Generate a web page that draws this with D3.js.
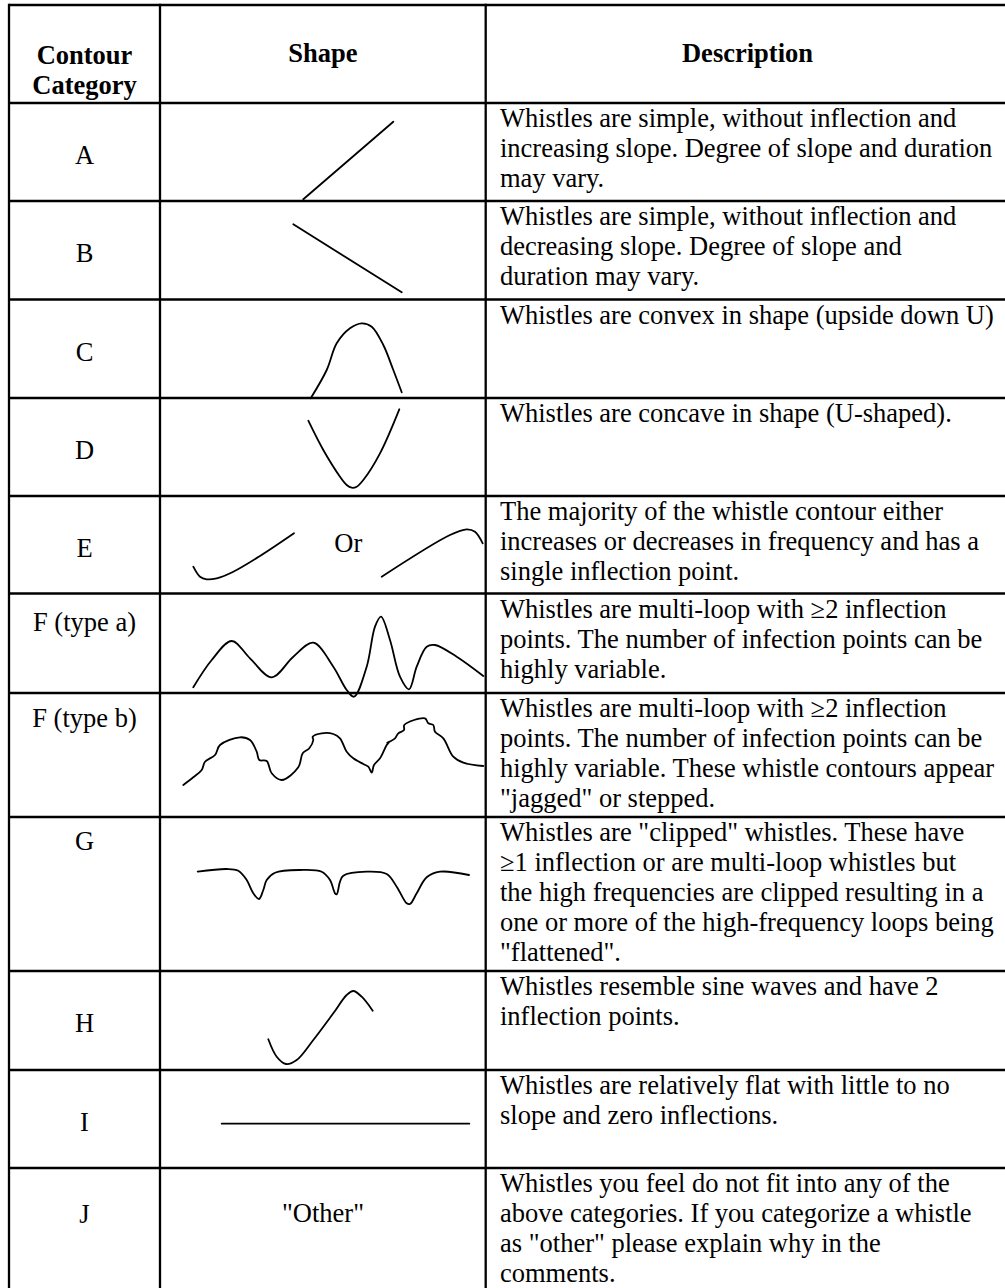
<!DOCTYPE html>
<html>
<head>
<meta charset="utf-8">
<script src="https://cdn.jsdelivr.net/npm/d3@7"></script>
<style>
  body { margin: 0; background: #fff; }
  svg { display: block; }
  text { font-family: "Liberation Serif", "Times New Roman", serif; font-size: 26.5px; fill: #000; }
  .head { font-weight: bold; }
</style>
</head>
<body>
<svg id="chart" width="1005" height="1288"></svg>
<script>
// ─────────────────────────────────────────────────────────────
// 1. table content
// ─────────────────────────────────────────────────────────────
const headers = [['Contour', 'Category'], ['Shape'], ['Description']];

const categories = ['A', 'B', 'C', 'D', 'E', 'F (type a)', 'F (type b)', 'G', 'H', 'I', 'J'];

const descriptions = [
  ['Whistles are simple, without inflection and', 'increasing slope. Degree of slope and duration', 'may vary.'],
  ['Whistles are simple, without inflection and', 'decreasing slope. Degree of slope and', 'duration may vary.'],
  ['Whistles are convex in shape (upside down U)'],
  ['Whistles are concave in shape (U-shaped).'],
  ['The majority of the whistle contour either', 'increases or decreases in frequency and has a', 'single inflection point.'],
  ['Whistles are multi-loop with \u22652 inflection', 'points. The number of infection points can be', 'highly variable.'],
  ['Whistles are multi-loop with \u22652 inflection', 'points. The number of infection points can be', 'highly variable. These whistle contours appear', '"jagged" or stepped.'],
  ['Whistles are "clipped" whistles. These have', '\u22651 inflection or are multi-loop whistles but', 'the high frequencies are clipped resulting in a', 'one or more of the high-frequency loops being', '"flattened".'],
  ['Whistles resemble sine waves and have 2', 'inflection points.'],
  ['Whistles are relatively flat with little to no', 'slope and zero inflections.'],
  ['Whistles you feel do not fit into any of the', 'above categories. If you categorize a whistle', 'as "other" please explain why in the', 'comments.']
];

// contour sketches: strokes of [x, y] in the shape cell's own units
const contourA = [[[143.3, 96.3], [233.3, 18.7]]];
const contourB = [[[133.3, 23.3], [241.7, 91.3]]];
const contourC = [[[150.7, 98.8], [166.7, 70.5], [176.7, 43.8], [190, 28.8], [201.7, 23.8],
                   [211.7, 27.2], [223.3, 45.5], [233.3, 70.5], [241.7, 92.8]]];
const contourD = [[[148.3, 22.7], [163.3, 52], [180, 78.7], [186.7, 87], [191.7, 89.7],
                   [196.7, 88.7], [203.3, 82], [220, 55.3], [239.3, 11.3]]];
const contourE = [
  [[33.3, 70.7], [40, 80.7], [46.7, 83.3], [56.7, 82.3], [73.3, 75.7], [100, 60], [134, 37.3]],
  [[221.7, 80.7], [290, 39], [306.7, 33.3], [315, 35.7], [322.7, 47.3]]
];
const contourFa = [[[33.3, 93.8], [51.7, 66.5], [71.7, 47.5], [90, 64.8], [111.7, 83.8], [133.3, 63.2],
                    [153.3, 49.2], [173.3, 73.2], [186.7, 96.5], [194, 103.2], [206.7, 73.2], [215, 33.2],
                    [221, 23.2], [230, 46.5], [240, 83.2], [249, 95.8], [256.7, 73.2], [266.7, 53.2],
                    [275, 51.5], [296.7, 63.2], [323.3, 82.5]]];
const contourFb = [[[23.3, 92], [33.3, 84.3], [41.7, 77], [45, 68.7], [55, 62], [60, 52], [80, 44.3],
                    [90, 47], [96.7, 58.7], [99.3, 67], [106.7, 68], [111.7, 80.3], [121.7, 87],
                    [138.3, 74.3], [142.7, 60.3], [149.3, 55.3], [153.3, 47], [152.7, 43.7], [161.7, 40.3],
                    [173.3, 41], [180, 45.3], [186.7, 58.7], [193.3, 65.3], [203.3, 71], [208.3, 73.7],
                    [211.7, 79.7], [214, 72], [220, 65.3], [226.7, 52], [229.3, 48.7], [227.3, 49.7],
                    [235, 45.3], [238.3, 40.3], [244, 37], [244.3, 32], [265, 25.3], [268.3, 30.3],
                    [273.3, 32], [275, 38.7], [283.3, 45.3], [293.3, 63.7], [303.3, 69.7], [323.3, 73]]];
const contourG = [[[37.7, 54.7], [66.7, 52], [78.3, 53.7], [86.7, 63], [93.3, 76.3], [99, 82], [103.3, 73],
                   [106.7, 63], [115, 55.7], [140, 53], [161.7, 54.7], [170, 63], [175, 76.3], [176.7, 77.3],
                   [180, 64.7], [183.3, 58.7], [206.7, 54.7], [226.7, 57], [236.7, 69.7], [246.7, 86.3],
                   [250, 87], [256.7, 76.3], [266.7, 60.3], [280, 54.7], [309, 58]]];
const contourH = [[[108.3, 68.3], [116.7, 85.7], [126, 93], [136.7, 89], [153.3, 69], [173.3, 42.3],
                   [186.7, 24], [193.3, 20], [201.7, 25.7], [212.7, 39.7]]];
const contourI = [[[61.7, 53.7], [309.3, 53.7]]];
const contourJ = [];

const contours = [contourA, contourB, contourC, contourD, contourE, contourFa, contourFb,
                  contourG, contourH, contourI, contourJ];

// words written inside the shape column
const shapeWords = ['', '', '', '', 'Or', '', '', '', '', '', '"Other"'];

// ─────────────────────────────────────────────────────────────
// 2. layout
// ─────────────────────────────────────────────────────────────
const COL_X   = [9, 160, 485.7, 1010];
const TOP     = 5;
// header height first, then one height per category row
const ROW_H   = [98, 98, 98.5, 98.5, 98, 97.5, 99.5, 124, 154, 99, 98, 125];
const LABEL_DY = [61, 61, 61, 61, 61, 37.5, 34, 33, 61, 61, 55];
const WORD_POS = [null, null, null, null, [188.3, 55.7], null, null, null, null, null, [163, 54]];
const LINE_STEP = 30;
const DESC_X    = 500;
const DESC_DY   = 24;
const BORDER_W  = 2.3;
const SKETCH_W  = 1.8;

const edges   = [TOP, ...d3.cumsum(ROW_H).map(v => v + TOP)];
const rowTops = edges.slice(1, -1);
const rowBots = edges.slice(2);

const svg = d3.select('#chart');

// ─────────────────────────────────────────────────────────────
// 3. header
// ─────────────────────────────────────────────────────────────
const colMid = i => (COL_X[i] + COL_X[i + 1]) / 2;
const headBase = [[64, 94], [62], [62]];

headers.forEach((lines, i) => {
  svg.selectAll(null)
    .data(lines)
    .join('text')
    .attr('class', 'head')
    .attr('text-anchor', 'middle')
    .attr('x', i === 2 ? 747.5 : colMid(i))
    .attr('y', (d, j) => headBase[i][j])
    .text(d => d);
});

// ─────────────────────────────────────────────────────────────
// 4. body rows
// ─────────────────────────────────────────────────────────────
const line = d3.line().curve(d3.curveCatmullRom.alpha(0.5));

categories.forEach((cat, i) => {
  const top = rowTops[i], bot = rowBots[i];
  const g = svg.append('g');

  g.append('text')
    .attr('text-anchor', 'middle')
    .attr('x', colMid(0))
    .attr('y', top + LABEL_DY[i])
    .text(cat);

  g.selectAll('.desc')
    .data(descriptions[i])
    .join('text')
    .attr('class', 'desc')
    .attr('x', DESC_X)
    .attr('y', (d, j) => top + DESC_DY + j * LINE_STEP)
    .text(d => d);

  const xs = d3.scaleLinear().domain([0, COL_X[2] - COL_X[1]]).range([COL_X[1], COL_X[2]]);
  const ys = d3.scaleLinear().domain([0, bot - top]).range([top, bot]);
  line.x(d => xs(d[0])).y(d => ys(d[1]));

  g.selectAll('.sketch')
    .data(contours[i])
    .join('path')
    .attr('class', 'sketch')
    .attr('d', line)
    .attr('fill', 'none')
    .attr('stroke', '#000')
    .attr('stroke-width', SKETCH_W)
    .attr('stroke-linecap', 'round')
    .attr('stroke-linejoin', 'round');

  if (shapeWords[i]) {
    g.append('text')
      .attr('text-anchor', 'middle')
      .attr('x', xs(WORD_POS[i][0]))
      .attr('y', ys(WORD_POS[i][1]))
      .text(shapeWords[i]);
  }
});

// ─────────────────────────────────────────────────────────────
// 5. grid lines
// ─────────────────────────────────────────────────────────────
svg.selectAll('.hline')
  .data(edges)
  .join('line')
  .attr('class', 'hline')
  .attr('x1', COL_X[0]).attr('x2', COL_X[3])
  .attr('y1', d => d).attr('y2', d => d)
  .attr('stroke', '#000').attr('stroke-width', BORDER_W);

svg.selectAll('.vline')
  .data(COL_X)
  .join('line')
  .attr('class', 'vline')
  .attr('x1', d => d).attr('x2', d => d)
  .attr('y1', TOP - BORDER_W / 2).attr('y2', edges[edges.length - 1])
  .attr('stroke', '#000').attr('stroke-width', BORDER_W);
</script>
</body>
</html>
